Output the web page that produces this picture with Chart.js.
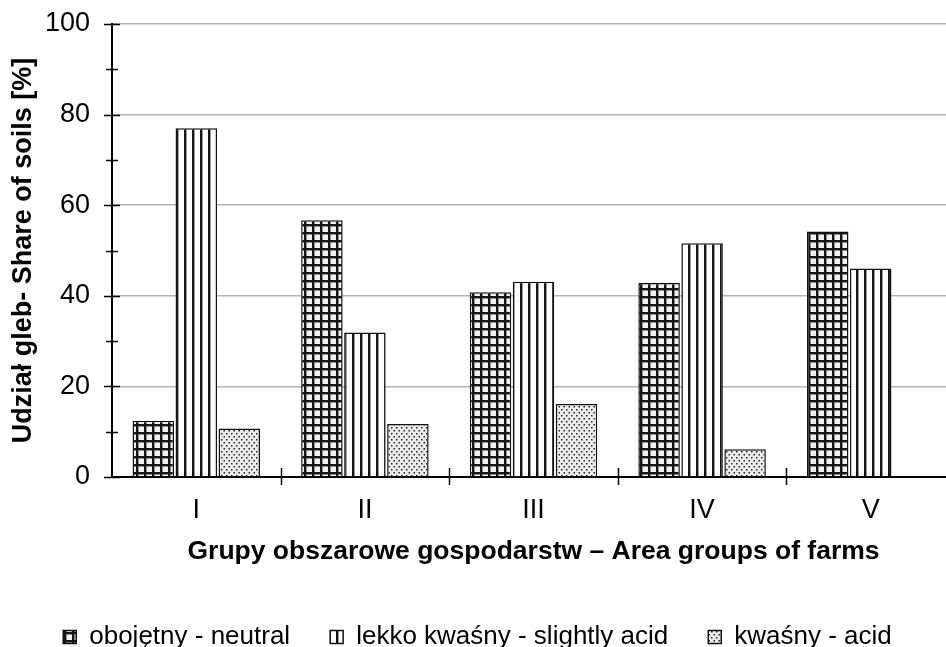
<!DOCTYPE html>
<html>
<head>
<meta charset="utf-8">
<script src="https://cdn.jsdelivr.net/npm/chart.js@4.4.1/dist/chart.umd.min.js"></script>
<style>
html, body { margin: 0; padding: 0; overflow: hidden; background: #fff; width: 946px; height: 647px; }
#wrap { position: absolute; left: 0; top: 0; width: 957px; height: 660px; }
canvas { display: block; }
</style>
</head>
<body>
<div id="wrap"><canvas id="c" width="957" height="660"></canvas></div>
<script>
// ---- data ----
const categories = ['I', 'II', 'III', 'IV', 'V'];
const seriesNames = ['obojętny - neutral', 'lekko kwaśny - slightly acid', 'kwaśny - acid'];
const neutral = [12.4, 56.7, 40.8, 42.8, 54.2];
const slightlyAcid = [77.0, 31.9, 43.1, 51.6, 46.0];
const acid = [10.7, 11.7, 16.1, 6.1, 0];
const yTickValues = [0, 20, 40, 60, 80, 100];
const xTitle = 'Grupy obszarowe gospodarstw \u2013 Area groups of farms';
const yTitle = 'Udział gleb- Share of soils [%]';

// ---- patterns ----
function makeTile(w, h, draw) {
  const c = document.createElement('canvas');
  c.width = w; c.height = h;
  const g = c.getContext('2d');
  draw(g);
  return document.getElementById('c').getContext('2d').createPattern(c, 'repeat');
}
const gridPat = makeTile(8, 8, g => {
  g.fillStyle = '#f2f2f2'; g.fillRect(0, 0, 8, 8);
  g.fillStyle = '#141414'; g.fillRect(0, 0, 2, 8); g.fillRect(0, 0, 8, 2);
  g.fillStyle = '#8a8a8a'; g.fillRect(2, 2, 1, 6); g.fillRect(2, 2, 6, 1);
});
const vertPat = makeTile(8, 4, g => {
  g.fillStyle = '#ffffff'; g.fillRect(0, 0, 8, 4);
  g.fillStyle = '#141414'; g.fillRect(0, 0, 2, 4);
  g.fillStyle = '#9a9a9a'; g.fillRect(2, 0, 1, 4);
});
const dotPat = makeTile(5, 6, g => {
  g.fillStyle = '#eaeaea'; g.fillRect(0, 0, 5, 6);
  g.fillStyle = '#2a2a2a';
  g.fillRect(1, 1, 1.5, 1.5);
  g.fillRect(3.5, 4, 1.5, 1.5);
});

const FONT = "'Liberation Sans', Arial, sans-serif";

// crossing tick marks drawn from the scales
const tickMarks = {
  id: 'tickMarks',
  afterDraw(chart) {
    const ctx = chart.ctx;
    const xs = chart.scales.x, ys = chart.scales.y;
    const ca = chart.chartArea;
    ctx.save();
    ctx.strokeStyle = '#000';
    ctx.lineWidth = 1.5;
    for (let v = 0; v <= 100; v += 10) {
      const y = Math.round(ys.getPixelForValue(v)) + 0.5;
      const len = (v % 20 === 0) ? 8 : 6;
      ctx.beginPath(); ctx.moveTo(ca.left - len, y); ctx.lineTo(ca.left + len, y); ctx.stroke();
    }
    const w = xs.getPixelForValue(1) - xs.getPixelForValue(0);
    for (let k = 1; k <= categories.length; k++) {
      const x = Math.round(xs.getPixelForValue(k) - w / 2) + 0.5;
      ctx.beginPath(); ctx.moveTo(x, ca.bottom - 9); ctx.lineTo(x, ca.bottom + 8); ctx.stroke();
    }
    ctx.restore();
  }
};

const ds = (label, data, pat) => ({
  label, data,
  backgroundColor: pat,
  borderColor: '#111',
  borderWidth: 1.5,
  categoryPercentage: 0.765,
  barPercentage: 0.965
});

new Chart(document.getElementById('c'), {
  type: 'bar',
  data: {
    labels: categories,
    datasets: [
      ds(seriesNames[0], neutral, gridPat),
      ds(seriesNames[1], slightlyAcid, vertPat),
      ds(seriesNames[2], acid, dotPat)
    ]
  },
  options: {
    responsive: false,
    animation: false,
    devicePixelRatio: 1,
    layout: { padding: { top: 24, right: 2, left: 0, bottom: 0 } },
    plugins: {
      tooltip: { enabled: false },
      legend: {
        position: 'bottom',
        labels: {
          boxWidth: 13, boxHeight: 13, padding: 40,
          color: '#000',
          font: { family: FONT, size: 26 }
        }
      }
    },
    scales: {
      x: {
        grid: { display: false, drawTicks: false },
        border: { display: true, color: '#000', width: 2 },
        ticks: { color: '#000', padding: 17, font: { family: FONT, size: 27 } },
        title: { display: true, text: xTitle, color: '#000', padding: { top: 0, bottom: 16 }, font: { family: FONT, size: 26.5, weight: 'bold' } },
        afterFit(s) { s.height = 107; s.paddingLeft = 0; s.paddingRight = 0; }
      },
      y: {
        min: 0, max: 100,
        afterBuildTicks(s) { s.ticks = yTickValues.map(v => ({ value: v })); },
        grid: { color: '#b3b3b3', lineWidth: 1.5, drawTicks: false },
        border: { display: true, color: '#000', width: 2 },
        ticks: { color: '#000', padding: 22, font: { family: FONT, size: 27 } },
        title: { display: true, text: yTitle, color: '#000', padding: { top: 7, bottom: 0 }, font: { family: FONT, size: 27, weight: 'bold' } },
        afterFit(s) { s.width = 112; s.paddingTop = 0; s.paddingBottom = 0; }
      }
    }
  },
  plugins: [tickMarks]
});
</script>
</body>
</html>
